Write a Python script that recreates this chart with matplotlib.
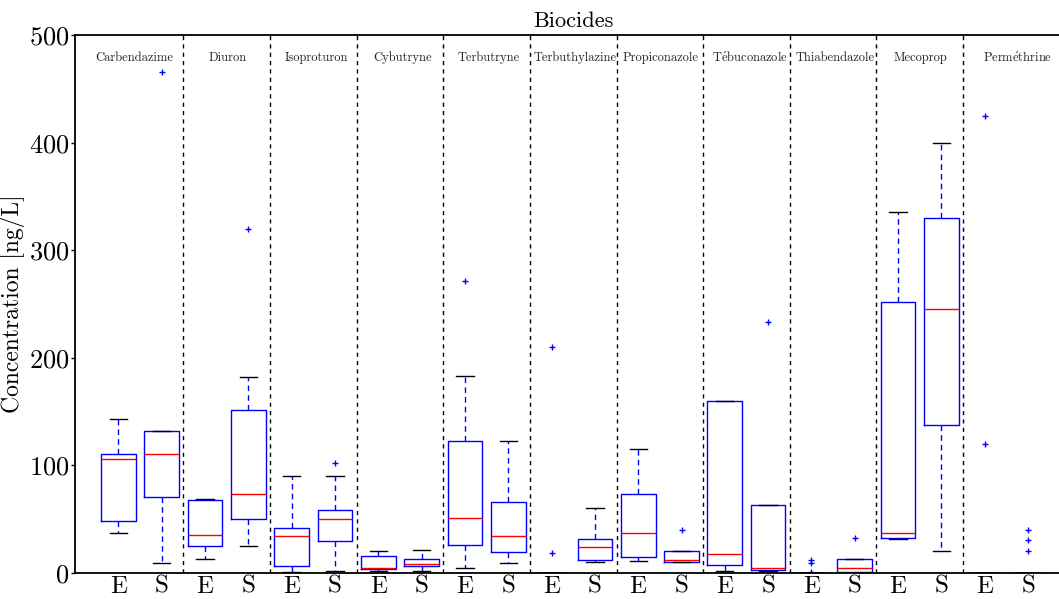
import matplotlib
matplotlib.use('Agg')
import matplotlib.pyplot as plt

# compounds, each with an inlet (E) and outlet (S) box
groups = ['Carbendazime', 'Diuron', 'Isoproturon', 'Cybutryne', 'Terbutryne',
          'Terbuthylazine', 'Propiconazole', r'T$\acute{\mathrm{e}}$buconazole', 'Thiabendazole',
          'Mecoprop', r'Perm$\acute{\mathrm{e}}$thrine']

# E (entrée) box statistics [ng/L]
med_E = [106, 35.5, 34, 4.7, 50.5, 0, 37, 17, 0, 37, 0]
q1_E = [48, 25, 6, 3.5, 26, 0, 14.4, 7, 0, 32.7, 0]
q3_E = [110, 68, 42, 16, 123, 0, 73, 160, 0, 252, 0]
lo_E = [37, 13, 0.4, 2, 4.7, 0, 11, 2, 0, 31, 0]
hi_E = [143, 69, 90, 20.6, 183, 0, 115, 160, 0, 336, 0]
fliers_E = [[], [], [], [], [271], [18, 210], [], [], [0.5, 9, 12], [], [120, 425]]

# S (sortie) box statistics [ng/L]
med_S = [110, 73, 50, 8, 34, 23.7, 12, 4.4, 4, 245, 0]
q1_S = [70, 50, 29.6, 6, 19, 12, 10.3, 2.8, 0.4, 137.5, 0]
q3_S = [132, 151, 58, 12.5, 66, 31, 20, 62.6, 12.5, 330, 0]
lo_S = [9, 25, 2, 2, 8.8, 10, 9.7, 2, 0, 20, 0]
hi_S = [132, 182, 90, 21.5, 123, 60, 20, 62.6, 12.5, 400, 0]
fliers_S = [[466], [320], [102], [], [], [], [39.6], [233], [32.7], [], [20, 30, 40]]

tick_labels = ['E', 'S']

plt.rcParams['font.family'] = ['cmr10', 'DejaVu Serif']
plt.rcParams['mathtext.fontset'] = 'cm'
plt.rcParams['axes.formatter.use_mathtext'] = True

# build the stats list, alternating E / S
stats = []
for i in range(len(groups)):
    stats.append(dict(med=med_E[i], q1=q1_E[i], q3=q3_E[i],
                      whislo=lo_E[i], whishi=hi_E[i], fliers=fliers_E[i]))
    stats.append(dict(med=med_S[i], q1=q1_S[i], q3=q3_S[i],
                      whislo=lo_S[i], whishi=hi_S[i], fliers=fliers_S[i]))
positions = list(range(1, len(stats) + 1))

fig = plt.figure(figsize=(10.59, 5.99), dpi=100)
# axes runs to x=23, its right side is cut off by the figure edge like the original
ax = fig.add_axes([75 / 1059, 1 - 572.7 / 599, 996.4 / 1059, 537.3 / 599])

ax.bxp(stats, positions=positions, widths=0.8, showfliers=True,
       boxprops=dict(color='blue', linewidth=1),
       whiskerprops=dict(color='blue', linewidth=1, linestyle=(0, (4, 3))),
       capprops=dict(color='black', linewidth=1),
       medianprops=dict(color='red', linewidth=1),
       flierprops=dict(marker='+', markeredgecolor='blue', markersize=5,
                       markeredgewidth=1, linestyle='none'))

# dashed separators between compounds
for k in range(1, len(groups)):
    ax.axvline(2 * k + 0.5, color='black', linewidth=1, linestyle=(0, (3, 3)))

label_x = [1.36, 3.52, 5.57, 7.55, 9.56, 11.54, 13.52, 15.59, 17.54, 19.51, 21.75]
for x, name in zip(label_x, groups):
    ax.text(x, 479, name, ha='center', va='center', fontsize=9, color='#222222')

for side in ax.spines.values():
    side.set_linewidth(1.3)
    side.set_zorder(5)

ax.set_xlim(0, 23)
ax.set_ylim(0, 500)
ax.set_yticks([0, 100, 200, 300, 400, 500])
ax.set_xticks(positions)
ax.set_xticklabels(tick_labels * len(groups))
ax.tick_params(axis='x', length=0, labelsize=18, pad=2)
ax.tick_params(axis='y', direction='out', length=3, width=1, labelsize=19, pad=1)
ax.set_ylabel('Concentration [ng/L]', fontsize=17, labelpad=3)
ax.set_title('Biocides', fontsize=16, pad=6)

fig.savefig('out.png', dpi=100)
